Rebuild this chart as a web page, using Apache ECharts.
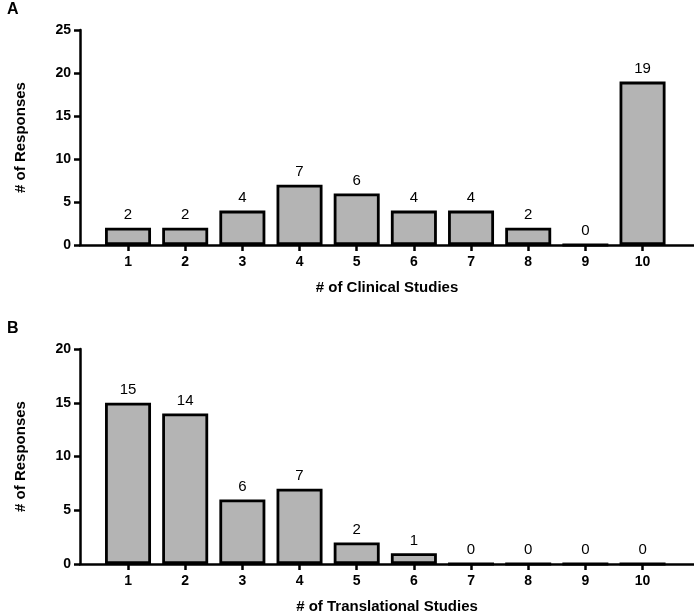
<!DOCTYPE html>
<html><head><meta charset="utf-8">
<script src="https://cdn.jsdelivr.net/npm/echarts@6/dist/echarts.min.js"></script>
<style>html,body{margin:0;padding:0;background:#fff}#c{width:694px;height:611px}</style>
</head><body><div id="c"></div>
<script>
const categories = [1,2,3,4,5,6,7,8,9,10];
const clinicalCounts = [2,2,4,7,6,4,4,2,0,19];
const translationalCounts = [15,14,6,7,2,1,0,0,0,0];
const yTicksA = [0,5,10,15,20,25];
const yTicksB = [0,5,10,15,20];

const font = 'Liberation Sans, Arial, sans-serif';
const chart = echarts.init(document.getElementById('c'));

function xAxis(gi, name, gap) {
  return {
    type: 'value', gridIndex: gi, min: 0.16, max: 10.9,
    name: name, nameLocation: 'middle', nameGap: gap,
    nameTextStyle: {fontFamily: font, fontWeight: 'bold', fontSize: 15, color: '#000'},
    axisLine: {show: true, onZero: false, lineStyle: {color: '#000', width: 2.5}},
    axisTick: {show: true, length: 6, lineStyle: {color: '#000', width: 2.5}, customValues: categories},
    axisLabel: {fontFamily: font, fontWeight: 'bold', fontSize: 14, color: '#000', margin: 10, customValues: categories},
    splitLine: {show: false}
  };
}
function yAxis(gi, ticks) {
  return {
    type: 'value', gridIndex: gi, min: ticks[0], max: ticks[ticks.length-1], interval: 5,
    name: '# of Responses', nameLocation: 'middle', nameGap: 52,
    nameTextStyle: {fontFamily: font, fontWeight: 'bold', fontSize: 15, color: '#000'},
    axisLine: {show: true, lineStyle: {color: '#000', width: 2.5}},
    axisTick: {show: true, length: 6, lineStyle: {color: '#000', width: 2.5}},
    axisLabel: {fontFamily: font, fontWeight: 'bold', fontSize: 14, color: '#000', margin: 9},
    splitLine: {show: false}
  };
}
function series(gi, vals) {
  return {
    type: 'bar', xAxisIndex: gi, yAxisIndex: gi, barWidth: 46,
    data: categories.map((c, i) => [c, vals[i]]),
    itemStyle: {color: '#b4b4b4', borderColor: '#000', borderWidth: 2.8},
    label: {show: true, position: 'top', distance: 5, fontFamily: font, fontSize: 15, color: '#000',
      formatter: p => p.value[1]},
    animation: false
  };
}
chart.setOption({
  animation: false,
  title: [
    {text: 'A', left: 2, top: -3, textStyle: {fontFamily: font, fontWeight: 'bold', fontSize: 16, color: '#000'}},
    {text: 'B', left: 2, top: 316, textStyle: {fontFamily: font, fontWeight: 'bold', fontSize: 16, color: '#000'}}
  ],
  grid: [
    {left: 80, right: 0, top: 30, bottom: 366, outerBoundsMode: 'none', containLabel: false},
    {left: 80, right: 0, top: 349, bottom: 47, outerBoundsMode: 'none', containLabel: false}
  ],
  xAxis: [xAxis(0, '# of Clinical Studies', 35), xAxis(1, '# of Translational Studies', 35)],
  yAxis: [yAxis(0, yTicksA), yAxis(1, yTicksB)],
  series: [series(0, clinicalCounts), series(1, translationalCounts)]
});
</script></body></html>
